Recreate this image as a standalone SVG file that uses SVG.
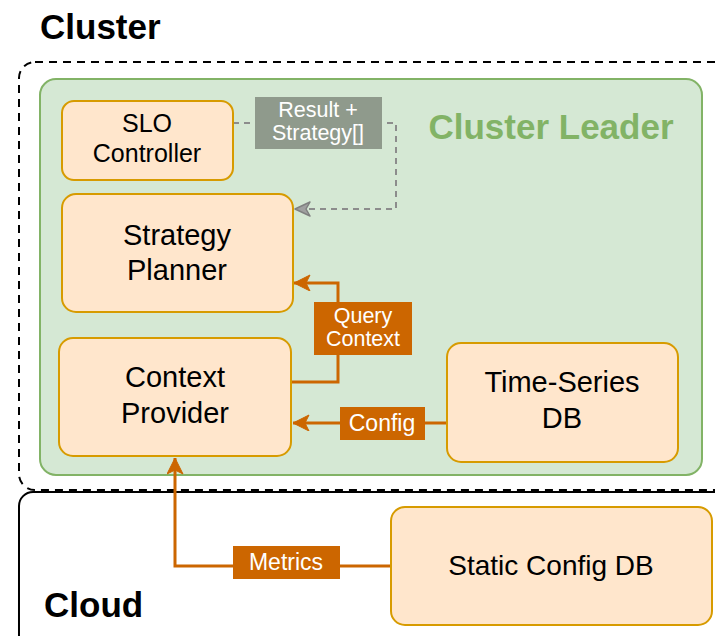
<svg xmlns="http://www.w3.org/2000/svg" width="715" height="636" viewBox="0 0 715 636">
  <style>
    .node { fill: #ffe6cc; stroke: #d79b00; stroke-width: 2; }
    .ntext { font-family: "Liberation Sans", Arial, sans-serif; fill: #000; text-anchor: middle; }
    .title { font-family: "Liberation Sans", Arial, sans-serif; font-weight: bold; font-size: 35px; }
    .flow { fill: none; stroke: #cc6600; stroke-width: 3; }
    .feedback { fill: none; stroke: #8c8c8c; stroke-width: 2; stroke-dasharray: 6 5; }
    .lbl { fill: #cc6600; }
    .lbltext { font-family: "Liberation Sans", Arial, sans-serif; fill: #fff; text-anchor: middle; font-size: 23px; }
    .lbl2 { font-size: 21.5px; }
  </style>
  <defs>
    <marker id="arrowOrange" markerUnits="userSpaceOnUse" markerWidth="20" markerHeight="18" refX="17" refY="8" orient="auto">
      <path d="M1,0 L17,8 L1,16 L5,8 Z" fill="#cc6600" stroke="#cc6600" stroke-width="1"/>
    </marker>
    <marker id="arrowOpen" markerUnits="userSpaceOnUse" markerWidth="20" markerHeight="18" refX="16" refY="8" orient="auto">
      <path d="M1,1 L16,8 L1,15 L5,8 Z" fill="#a0a0a0" stroke="#808080" stroke-width="1.5" stroke-linejoin="round"/>
    </marker>
  </defs>

  <rect width="715" height="636" fill="#ffffff"/>

  <!-- Cluster region (dashed) -->
  <g id="cluster">
    <rect x="19" y="62" width="712" height="428" rx="16" fill="none" stroke="#000" stroke-width="2" stroke-dasharray="8 6"/>
    <text class="title" x="40" y="39">Cluster</text>
  </g>

  <!-- Cloud region -->
  <g id="cloud">
    <rect x="19" y="492" width="712" height="170" rx="14" fill="#fff" stroke="#000" stroke-width="2"/>
    <text class="title" x="44" y="617">Cloud</text>
  </g>

  <!-- Cluster leader container -->
  <g id="cluster-leader">
    <rect x="40" y="79" width="662" height="396" rx="16" fill="#d5e8d4" stroke="#82b366" stroke-width="2"/>
    <text x="551" y="139" text-anchor="middle" font-family="'Liberation Sans', Arial, sans-serif" font-weight="bold" font-size="35" fill="#82b366">Cluster Leader</text>
  </g>

  <!-- Connectors -->
  <g id="connectors">
    <!-- feedback loop: SLO Controller -> Strategy Planner -->
    <path class="feedback" d="M233,123 H396 V209 H295" marker-end="url(#arrowOpen)"/>
    <g id="label-result">
      <rect x="255" y="97" width="127" height="52" fill="#8f9a8c"/>
      <text class="lbltext lbl2" x="318" y="117">Result +</text>
      <text class="lbltext lbl2" x="318" y="140">Strategy[]</text>
    </g>

    <!-- Context Provider -> Strategy Planner -->
    <path class="flow" d="M291,382 H338 V283 H294" marker-end="url(#arrowOrange)"/>
    <g id="label-query">
      <rect class="lbl" x="314" y="302" width="98" height="53"/>
      <text class="lbltext lbl2" x="363" y="323">Query</text>
      <text class="lbltext lbl2" x="363" y="346">Context</text>
    </g>

    <!-- Time-Series DB -> Context Provider -->
    <path class="flow" d="M447,423 H293" marker-end="url(#arrowOrange)"/>
    <g id="label-config">
      <rect class="lbl" x="340" y="407" width="85" height="33"/>
      <text class="lbltext" x="382" y="431">Config</text>
    </g>

    <!-- Static Config DB -> Context Provider -->
    <path class="flow" d="M391,566 H175 V458" marker-end="url(#arrowOrange)"/>
    <g id="label-metrics">
      <rect class="lbl" x="233" y="546" width="107" height="33"/>
      <text class="lbltext" x="286" y="570">Metrics</text>
    </g>
  </g>

  <!-- Nodes -->
  <g id="slo-controller">
    <rect class="node" x="62" y="101" width="171" height="79" rx="12"/>
    <text class="ntext" x="147" y="132" font-size="25">SLO</text>
    <text class="ntext" x="147" y="162" font-size="25">Controller</text>
  </g>

  <g id="strategy-planner">
    <rect class="node" x="62" y="194" width="231" height="118" rx="14"/>
    <text class="ntext" x="177" y="245" font-size="29">Strategy</text>
    <text class="ntext" x="177" y="280" font-size="29">Planner</text>
  </g>

  <g id="context-provider">
    <rect class="node" x="59" y="338" width="232" height="118" rx="14"/>
    <text class="ntext" x="175" y="387" font-size="29">Context</text>
    <text class="ntext" x="175" y="423" font-size="29">Provider</text>
  </g>

  <g id="time-series-db">
    <rect class="node" x="447" y="343" width="231" height="119" rx="14"/>
    <text class="ntext" x="562" y="392" font-size="29">Time-Series</text>
    <text class="ntext" x="562" y="428" font-size="29">DB</text>
  </g>

  <g id="static-config-db">
    <rect class="node" x="391" y="507" width="321" height="118" rx="14"/>
    <text class="ntext" x="551" y="575" font-size="28">Static Config DB</text>
  </g>
</svg>
